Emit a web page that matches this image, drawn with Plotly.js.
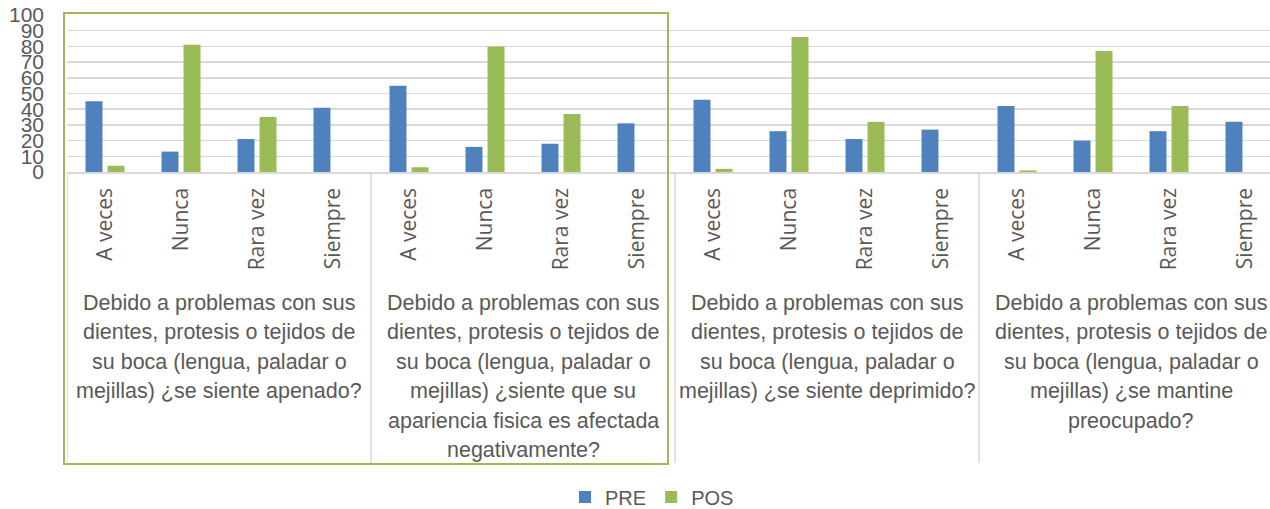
<!DOCTYPE html>
<html>
<head>
<meta charset="utf-8">
<script src="https://cdn.plot.ly/plotly-3.0.1.min.js"></script>
<style>html,body{margin:0;padding:0;background:#fff;}#chart{width:1270px;height:509px;}</style>
</head>
<body>
<div id="chart"></div>
<script>
const categories = ["A veces", "Nunca", "Rara vez", "Siempre"];
const groups = [
  "Debido a problemas con sus<br>dientes, protesis o tejidos de<br>su boca (lengua, paladar o<br>mejillas) ¿se siente apenado?",
  "Debido a problemas con sus<br>dientes, protesis o tejidos de<br>su boca (lengua, paladar o<br>mejillas) ¿siente que su<br>apariencia fisica es afectada<br>negativamente?",
  "Debido a problemas con sus<br>dientes, protesis o tejidos de<br>su boca (lengua, paladar o<br>mejillas) ¿se siente deprimido?",
  "Debido a problemas con sus<br>dientes, protesis o tejidos de<br>su boca (lengua, paladar o<br>mejillas) ¿se mantine<br>preocupado?"
];
const pre = [45, 13, 21, 41,  55, 16, 18, 31,  46, 26, 21, 27,  42, 20, 26, 32];
const pos = [4, 81, 35, 0,   3, 80, 37, 0,    2, 86, 32, 0,    1, 77, 42, 0];
const yTicks = [0, 10, 20, 30, 40, 50, 60, 70, 80, 90, 100];

const W = 1270, H = 509;
const plotL = 67, plotR = 1270, plotT = 15, plotB = 172;
const plotH = plotB - plotT;
const py = p => (plotB - p) / plotH; // pixel -> paper y
const px = p => (p - plotL) / (plotR - plotL);

const xIdx = [], xText = [];
groups.forEach((g, gi) => categories.forEach((c, ci) => { xIdx.push(gi * categories.length + ci); xText.push(c); }));

const grey = "#595959";
const traces = [
  {type: "bar", name: "PRE", x: xIdx, y: pre, marker: {color: "#4f81bd", line: {width: 0}}},
  {type: "bar", name: "POS", x: xIdx, y: pos, marker: {color: "#9bbb59", line: {width: 0}}}
];

const shapes = [];
for (let gi = 0; gi <= groups.length; gi++) {
  shapes.push({type: "line", xref: "x", yref: "paper", x0: gi * 4 - 0.5, x1: gi * 4 - 0.5, y0: 0, y1: py(463), line: {color: "#d9d9d9", width: 1.5}});
}
shapes.push({type: "rect", xref: "paper", yref: "paper", x0: px(64), x1: px(668), y0: py(13), y1: py(464), line: {color: "#9bbb59", width: 2}});

const annotations = [];
groups.forEach((g, gi) => {
  g.split("<br>").forEach((line, li) => {
    annotations.push({
      xref: "x", yref: "paper", x: gi * 4 + 1.5, y: py(303 + li * 29.4), xanchor: "center", yanchor: "middle",
      text: line, showarrow: false, align: "center",
      font: {family: "Liberation Sans, sans-serif", size: 21.5, color: grey}
    });
  });
});

const layout = {
  width: W, height: H,
  margin: {l: plotL, r: W - plotR, t: plotT, b: H - plotB, pad: 0},
  paper_bgcolor: "#fff", plot_bgcolor: "#fff",
  showlegend: true,
  legend: {orientation: "h", x: px(652), xanchor: "center", yref: "container", y: (H - 497) / H, yanchor: "middle",
    font: {family: "Liberation Sans, sans-serif", size: 20, color: grey}, traceorder: "normal", itemwidth: 30},
  barmode: "group", bargap: 0.42, bargroupgap: 0.23,
  xaxis: {range: [-0.5, -0.5 + (plotR - plotL) / 76], tickmode: "array", tickvals: xIdx, ticktext: xText,
    tickangle: -90, showgrid: false, zeroline: false, showline: true, linecolor: "#d9d9d9", linewidth: 1.5,
    ticks: "", ticklabelstandoff: 6, tickfont: {family: "Open Sans, sans-serif", size: 21, color: grey}, fixedrange: true},
  yaxis: {range: [0, 100], tickmode: "array", tickvals: yTicks, showgrid: true, gridcolor: "#d9d9d9", gridwidth: 1.5,
    zeroline: false, showline: false, ticks: "", ticklabelstandoff: 22,
    tickfont: {family: "Liberation Sans, sans-serif", size: 21, color: grey}, fixedrange: true},
  shapes: shapes,
  annotations: annotations
};

Plotly.newPlot("chart", traces, layout, {displayModeBar: false, staticPlot: true});
</script>
</body>
</html>
